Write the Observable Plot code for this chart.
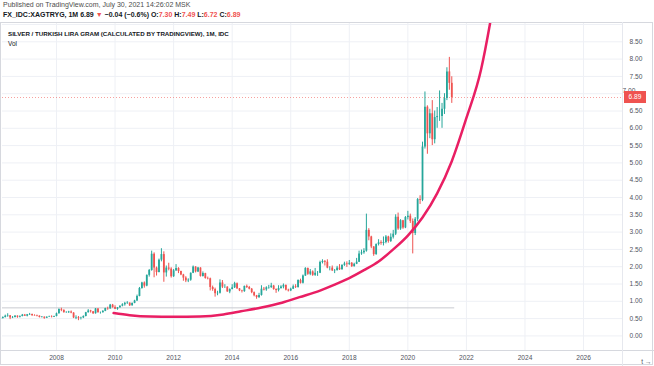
<!DOCTYPE html>
<html><head><meta charset="utf-8">
<script src="https://cdn.jsdelivr.net/npm/d3@7"></script>
<script src="https://cdn.jsdelivr.net/npm/@observablehq/plot@0.6"></script>
<style>
body{margin:0;background:#fff;font-family:"Liberation Sans",Arial,sans-serif;}
#wrap{position:relative;width:654px;height:366px;overflow:hidden;background:#fff;}
#h1{position:absolute;left:3px;top:1px;font-size:7px;color:#4c4c4c;white-space:nowrap;}
#h2{position:absolute;left:3px;top:11px;font-size:7px;font-weight:bold;color:#131722;white-space:nowrap;}
#h2 .r{color:#ef5350;}
#chart{position:absolute;left:0;top:22px;}
#t1{position:absolute;left:8px;top:30px;font-size:6.2px;font-weight:bold;color:#131722;white-space:nowrap;}
#t2{position:absolute;left:8px;top:40px;font-size:6.4px;color:#131722;}
</style></head>
<body>
<div id="wrap">
<div id="h1">Published on TradingView.com, July 30, 2021 14:26:02 MSK</div>
<div id="h2">FX_IDC:XAGTRYG, 1M 6.89 <span class="r">▼</span> −0.04 (−0.6%) O:<span class="r">7.30</span> H:<span class="r">7.49</span> L:<span class="r">6.72</span> C:<span class="r">6.89</span></div>
<div id="chart"></div>
<div id="t1">SILVER / TURKISH LIRA GRAM (CALCULATED BY TRADINGVIEW), 1M, IDC</div>
<div id="t2">Vol</div>
</div>
<script>
// Monthly candles, Feb 2006 .. Jul 2021
const firstYear = 2006, firstMonth = 1; // Feb 2006 (0-based month)
const open = [
0.48,0.50,0.53,0.57,0.58,0.52,0.53,0.57,0.54,0.56,0.60,
0.57,0.61,0.62,0.59,0.58,0.57,0.53,0.54,0.51,0.54,0.55,0.54,
0.56,0.64,0.76,0.74,0.67,0.67,0.69,0.66,0.52,0.53,0.51,0.52,
0.56,0.67,0.72,0.70,0.64,0.78,0.67,0.67,0.71,0.79,0.78,0.89,
0.82,0.77,0.81,0.86,0.90,0.94,0.95,0.87,0.94,1.01,1.14,1.37,
1.53,1.44,1.75,1.89,2.36,1.96,1.83,2.19,2.35,1.82,1.96,1.93,
1.71,1.88,1.95,1.86,1.76,1.67,1.59,1.61,1.81,1.99,1.85,1.96,
1.72,1.80,1.66,1.65,1.40,1.34,1.22,1.23,1.53,1.41,1.41,1.27,
1.34,1.39,1.51,1.36,1.30,1.28,1.43,1.40,1.35,1.25,1.16,1.11,
1.17,1.35,1.33,1.39,1.40,1.44,1.34,1.31,1.37,1.41,1.46,1.32,
1.30,1.35,1.42,1.40,1.60,1.52,1.73,1.95,1.78,1.85,1.75,1.81,
1.81,2.12,2.15,2.13,1.96,1.96,1.88,1.89,1.96,1.91,2.04,2.08,
2.06,2.10,2.00,2.07,2.13,2.37,2.40,2.45,3.05,2.86,2.57,2.35,
2.64,2.69,2.67,2.70,2.86,2.73,2.85,2.94,3.43,3.09,3.33,3.12,
3.42,3.46,3.31,2.96,3.37,3.94,3.92,5.46,6.61,5.84,6.42,5.67,
6.31,6.34,6.34,6.55,6.86,7.63,7.30];
const high = [
0.52,0.55,0.60,0.64,0.59,0.56,0.59,0.58,0.58,0.62,0.62,
0.62,0.65,0.63,0.61,0.60,0.58,0.56,0.55,0.55,0.57,0.58,0.57,
0.66,0.78,0.80,0.75,0.70,0.71,0.72,0.67,0.58,0.56,0.54,0.58,
0.68,0.76,0.74,0.70,0.79,0.79,0.69,0.73,0.80,0.83,0.91,0.91,
0.87,0.82,0.87,0.93,0.97,0.99,0.95,0.95,1.03,1.18,1.40,1.55,
1.56,1.76,1.92,2.45,2.40,1.99,2.22,2.52,2.43,2.02,2.10,1.97,
1.92,2.06,1.97,1.87,1.78,1.71,1.65,1.82,2.02,2.00,1.98,1.97,
1.85,1.81,1.70,1.67,1.44,1.38,1.29,1.62,1.60,1.48,1.42,1.36,
1.48,1.55,1.53,1.37,1.32,1.44,1.47,1.43,1.37,1.27,1.17,1.23,
1.45,1.40,1.42,1.46,1.52,1.46,1.36,1.45,1.45,1.50,1.47,1.35,
1.38,1.47,1.48,1.62,1.64,1.76,1.97,1.96,1.92,1.88,1.95,1.86,
2.16,2.20,2.18,2.20,2.00,2.02,1.92,2.01,2.06,2.05,2.13,2.14,
2.18,2.12,2.10,2.24,2.45,2.48,2.52,3.52,3.10,2.88,2.58,2.66,
2.78,2.75,2.86,2.90,2.88,2.95,3.05,3.50,3.55,3.36,3.34,3.45,
3.60,3.52,3.38,3.42,3.97,4.05,5.60,7.05,6.65,6.55,6.80,6.50,
6.60,7.08,6.72,7.00,7.75,8.05,7.49];
const low = [
0.47,0.49,0.52,0.54,0.47,0.50,0.52,0.51,0.52,0.55,0.56,
0.55,0.59,0.56,0.57,0.55,0.52,0.52,0.48,0.50,0.53,0.52,0.53,
0.55,0.63,0.70,0.66,0.65,0.65,0.64,0.50,0.47,0.44,0.46,0.50,
0.55,0.66,0.66,0.62,0.63,0.66,0.63,0.66,0.70,0.74,0.77,0.80,
0.76,0.74,0.80,0.84,0.86,0.91,0.85,0.86,0.93,1.00,1.13,1.35,
1.38,1.42,1.70,1.87,1.68,1.73,1.82,2.14,1.55,1.70,1.88,1.67,
1.69,1.86,1.80,1.74,1.58,1.54,1.54,1.58,1.80,1.82,1.83,1.70,
1.70,1.64,1.62,1.30,1.29,1.12,1.16,1.21,1.37,1.37,1.26,1.22,
1.33,1.37,1.34,1.28,1.24,1.26,1.37,1.33,1.22,1.13,1.06,1.08,
1.15,1.30,1.29,1.35,1.37,1.32,1.23,1.27,1.35,1.36,1.30,1.27,
1.28,1.34,1.37,1.38,1.50,1.50,1.72,1.75,1.74,1.72,1.72,1.72,
1.80,2.08,2.02,1.94,1.88,1.86,1.80,1.87,1.89,1.90,2.01,1.98,
2.04,1.98,1.99,2.06,2.12,2.33,2.36,2.42,2.75,2.52,2.30,2.33,
2.60,2.62,2.60,2.66,2.68,2.70,2.80,2.90,3.05,3.05,3.08,3.10,
3.35,3.25,2.37,2.90,3.30,3.80,3.88,5.40,5.25,5.70,5.50,5.55,
6.00,6.20,6.00,6.40,6.80,7.10,6.72];
const close = [
0.50,0.53,0.57,0.58,0.52,0.53,0.57,0.54,0.56,0.60,0.57,
0.61,0.62,0.59,0.58,0.57,0.53,0.54,0.51,0.54,0.55,0.54,0.56,
0.64,0.76,0.74,0.67,0.67,0.69,0.66,0.52,0.53,0.51,0.52,0.56,
0.67,0.72,0.70,0.64,0.78,0.67,0.67,0.71,0.79,0.78,0.89,0.82,
0.77,0.81,0.86,0.90,0.94,0.95,0.87,0.94,1.01,1.14,1.37,1.53,
1.44,1.75,1.89,2.36,1.96,1.83,2.19,2.35,1.82,1.96,1.93,1.71,
1.88,1.95,1.86,1.76,1.67,1.59,1.61,1.81,1.99,1.85,1.96,1.72,
1.80,1.66,1.65,1.40,1.34,1.22,1.23,1.53,1.41,1.41,1.27,1.34,
1.39,1.51,1.36,1.30,1.28,1.43,1.40,1.35,1.25,1.16,1.11,1.17,
1.35,1.33,1.39,1.40,1.44,1.34,1.31,1.37,1.41,1.46,1.32,1.30,
1.35,1.42,1.40,1.60,1.52,1.73,1.95,1.78,1.85,1.75,1.81,1.81,
2.12,2.15,2.13,1.96,1.96,1.88,1.89,1.96,1.91,2.04,2.08,2.06,
2.10,2.00,2.07,2.13,2.37,2.40,2.45,3.05,2.86,2.57,2.35,2.64,
2.69,2.67,2.70,2.86,2.73,2.85,2.94,3.43,3.09,3.33,3.12,3.42,
3.46,3.31,2.96,3.37,3.94,3.92,5.46,6.61,5.84,6.42,5.67,6.31,
6.34,6.34,6.55,6.86,7.63,7.30,6.89];

// hand-drawn curve (year, price)
const curveYears  = [2009.95,2010.5,2011.2,2012.0,2012.9,2013.7,2014.3,2015.0,2015.7,2016.3,2017.0,2017.5,2018.0,2018.5,2019.0,2019.5,2020.0,2020.5,2021.0,2021.5,2022.0,2022.5,2022.8,2023.0];
const curveValues = [0.66,0.60,0.56,0.55,0.56,0.62,0.71,0.82,0.96,1.12,1.31,1.48,1.67,1.90,2.15,2.50,2.90,3.42,4.12,5.05,6.30,7.70,9.00,10.0];

// horizontal drawn line
const hLineValue = 0.81, hLineEnd = 2021.6;
const lastPrice = 6.89;

const xTicks = [2008,2010,2012,2014,2016,2018,2020,2022,2024,2026];
const yTicks = [0,0.5,1,1.5,2,2.5,3,3.5,4,4.5,5,5.5,6,6.5,7,7.5,8,8.5];

const green = "#26a69a", red = "#ef5350";
const rows = close.map((c, i) => ({
  t: firstYear + (firstMonth + i) / 12,
  o: open[i], h: high[i], l: low[i], c,
  col: c >= open[i] ? green : red
}));
const curve = curveYears.map((t, i) => ({t, v: curveValues[i]}));

const X0 = 2006.156, X1 = 2027.33;
const chart = Plot.plot({
  width: 654, height: 344,
  marginLeft: 2, marginRight: 32, marginTop: 0, marginBottom: 16,
  style: {fontFamily: "'Liberation Sans', Arial, sans-serif", fontSize: "6.6px", background: "transparent"},
  x: {domain: [X0, X1], axis: null},
  y: {domain: [-0.422, 9.058], axis: null},
  color: {type: "identity"},
  marks: [
    Plot.gridX(xTicks, {stroke: "#eef0f5", strokeOpacity: 1}),
    Plot.gridY(yTicks.concat([9]), {stroke: "#eef0f5", strokeOpacity: 1}),
    Plot.ruleY([hLineValue], {x1: X0, x2: hLineEnd, stroke: "#c8cad0", strokeWidth: 1}),
    Plot.ruleY([lastPrice], {stroke: red, strokeOpacity: 0.55, strokeWidth: 1, strokeDasharray: "1,2"}),
    Plot.ruleX(rows, {x: "t", y1: "l", y2: "h", stroke: "col", strokeWidth: 1}),
    Plot.ruleX(rows, {x: "t", y1: "o", y2: "c", stroke: "col", strokeWidth: 1.8}),
    Plot.line(curve, {x: "t", y: "v", stroke: "#e91e63", strokeWidth: 2.5, curve: "monotone-x", clip: true}),
    Plot.axisY(yTicks.filter(d => d !== 7), {anchor: "right", tickSize: 0, tickPadding: 7, tickFormat: d => d.toFixed(2), fill: "#50535e"}),
    Plot.axisX(xTicks, {anchor: "bottom", tickSize: 0, tickPadding: 5, tickFormat: d => String(d), fill: "#50535e"})
  ]
});
document.getElementById("chart").appendChild(chart);

// frame, separators and last-price label using Plot's scales
const svg = d3.select(chart);
const yS = chart.scale("y");
const py = yS.apply(lastPrice);
svg.append("rect").attr("x", 0.5).attr("y", 0.5).attr("width", 652).attr("height", 342)
  .attr("fill", "none").attr("stroke", "#d6d8de");
svg.append("line").attr("x1", 0).attr("x2", 654).attr("y1", 328.5).attr("y2", 328.5).attr("stroke", "#d6d8de");
svg.append("line").attr("x1", 622.5).attr("x2", 622.5).attr("y1", 0).attr("y2", 344).attr("stroke", "#e6e8ee");
// the 7.00 label peeks out just above the price box, as in the reference
svg.append("text").attr("x", 629).attr("y", yS.apply(7) - 3).attr("dy", "0.35em").attr("fill", "#50535e")
  .attr("font-size", "6.6px").text("7.00");
svg.append("rect").attr("x", 624).attr("y", py - 6).attr("width", 22).attr("height", 12).attr("fill", red);
svg.append("text").attr("x", 635).attr("y", py).attr("dy", "0.35em").attr("text-anchor", "middle")
  .attr("fill", "#fff").attr("font-size", "6.6px").text(lastPrice.toFixed(2));
</script>
</body></html>
